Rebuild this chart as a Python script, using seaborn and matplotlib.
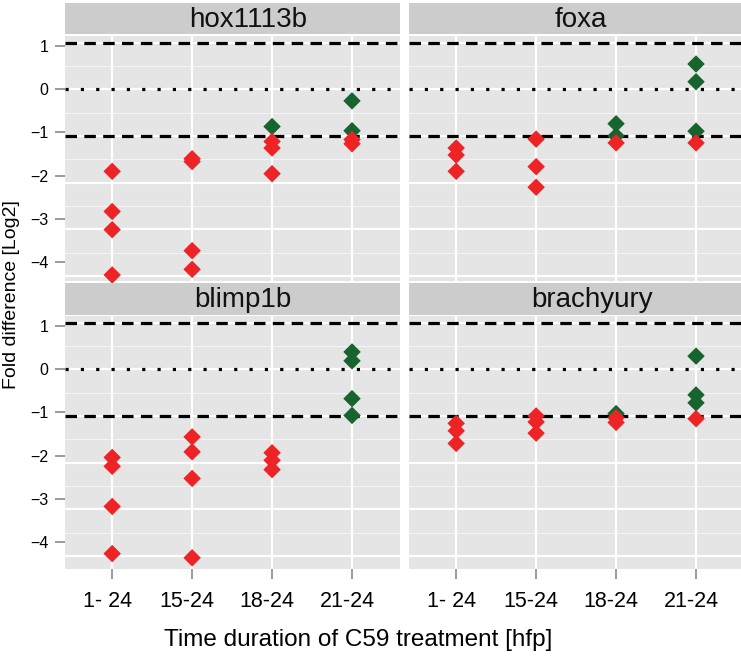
import numpy as np
import pandas as pd
import matplotlib
matplotlib.use("Agg")
import matplotlib.pyplot as plt
from matplotlib.transforms import ScaledTranslation
import seaborn as sns

# Treatment windows (hours post fertilisation) and genes shown in the four facets
conditions = ["1- 24", "15-24", "18-24", "21-24"]
genes = ["hox1113b", "foxa", "blimp1b", "brachyury"]

# log2 fold difference per replicate, grouped by treatment window.
# "down": reduced beyond the 2-fold cut-off, "flat": not.
hox1113b_down = [[-1.76, -2.62, -3.01, -3.98], [-1.49, -1.55, -3.46, -3.86], [-1.12, -1.26, -1.81], [-1.08, -1.17]]
hox1113b_flat = [[], [], [-0.80], [-0.25, -0.89]]
foxa_down = [[-1.26, -1.41, -1.76], [-1.07, -1.66, -2.10], [-1.15], [-1.15]]
foxa_flat = [[], [], [-0.74, -1.00], [0.54, 0.16, -0.90]]
blimp1b_down = [[-1.89, -2.08, -2.94, -3.95], [-1.45, -1.77, -2.34, -4.04], [-1.79, -1.95, -2.15], []]
blimp1b_flat = [[], [], [], [0.37, 0.18, -0.63, -0.99]]
brachyury_down = [[-1.16, -1.32, -1.59], [-1.00, -1.13, -1.37], [-1.04, -1.14], [-1.06]]
brachyury_flat = [[], [], [-0.95], [0.28, -0.55, -0.72]]

y_tick_values = [1, 0, -1, -2, -3, -4]
y_tick_labels = ["1", "0", "\u22121", "\u22122", "\u22123", "\u22124"]
cutoff = 1.0

series = {
    "hox1113b": (hox1113b_down, hox1113b_flat),
    "foxa": (foxa_down, foxa_flat),
    "blimp1b": (blimp1b_down, blimp1b_flat),
    "brachyury": (brachyury_down, brachyury_flat),
}

rows = []
for gene, (down, flat) in series.items():
    # "flat" rows first so the red points are drawn on top
    for status, groups in (("flat", flat), ("down", down)):
        for cond, vals in zip(conditions, groups):
            for v in vals:
                rows.append((gene, cond, status, v))
df = pd.DataFrame(rows, columns=["gene", "time", "status", "fold"])

sns.set_theme(style="white")
plt.rcParams["font.family"] = ["Liberation Sans", "DejaVu Sans"]

W, H = 741, 658
fig = plt.figure(figsize=(W / 100, H / 100), dpi=100)


def box(x0, y0, x1, y1):
    return [x0 / W, 1 - y1 / H, (x1 - x0) / W, (y1 - y0) / H]


RED = "#EE2326"
GREEN = "#17642F"
PANEL = "#E5E5E5"
STRIP = "#CCCCCC"
TICK = "#7F7F7F"

layout = {
    "hox1113b": dict(panel=(65, 36, 400, 281), strip=(65, 3, 400, 34), ylim=(-4.11, 1.14), left=True, bottom=False, tx=0.546),
    "foxa": dict(panel=(409, 36, 744, 281), strip=(409, 3, 744, 34), ylim=(-4.11, 1.14), left=False, bottom=False, tx=0.513),
    "blimp1b": dict(panel=(65, 316, 400, 569), strip=(65, 283, 400, 315), ylim=(-4.28, 1.14), left=True, bottom=True, tx=0.531),
    "brachyury": dict(panel=(409, 316, 744, 569), strip=(409, 283, 744, 315), ylim=(-4.28, 1.14), left=False, bottom=True, tx=0.546),
}

# tick labels sit on a slightly tighter spacing than the grid
LABEL_STEP = 0.925
label_shift = ScaledTranslation(-5 / 100, 0, fig.dpi_scale_trans)

for gene in genes:
    spec = layout[gene]
    ax = fig.add_axes(box(*spec["panel"]))
    ax.set_facecolor(PANEL)
    sub = df[df["gene"] == gene]
    sns.stripplot(data=sub, x="time", y="fold", hue="status", order=conditions,
                  palette={"down": RED, "flat": GREEN}, jitter=False, marker="D",
                  size=8.9, linewidth=0, legend=False, ax=ax)
    for coll in ax.collections:
        coll.set_zorder(4)
        coll.set_clip_on(False)

    ax.set_xlim(-0.59, 3.6)
    ax.set_ylim(*spec["ylim"])
    ax.grid(False)
    for s in ax.spines.values():
        s.set_visible(False)

    # grid: major on whole units, minor on halves, verticals on categories
    for v in np.arange(-5, 2, 1.0):
        ax.axhline(v, color="white", lw=1.6, zorder=0.5)
        ax.axhline(v + 0.5, color="#F4F4F4", lw=0.8, zorder=0.5)
    for i in range(len(conditions)):
        ax.axvline(i, color="white", lw=1.6, zorder=0.5)

    # 2-fold cut-offs and zero line
    for c in (cutoff, -cutoff):
        ax.axhline(c, color="black", lw=2.3, linestyle=(0, (3.6, 2.3)),
                   dash_capstyle="butt", zorder=2)
    ax.axhline(0, color="black", lw=2.3, linestyle=(0, (1.0, 3.8)),
               dash_capstyle="butt", zorder=2)

    if spec["left"]:
        ax.set_yticks([t * LABEL_STEP for t in y_tick_values], labels=y_tick_labels)
        ax.tick_params(axis="y", length=7.5, width=1.1, color=TICK, pad=4.5,
                       labelsize=11.5, labelcolor="black", left=True)
    else:
        ax.set_yticks([])
    if spec["bottom"]:
        ax.set_xticks(range(len(conditions)), labels=conditions)
        ax.tick_params(axis="x", length=7.5, width=1.1, color=TICK, pad=8,
                       labelsize=15.5, labelcolor="black", bottom=True)
        for lbl in ax.get_xticklabels():
            lbl.set_transform(lbl.get_transform() + label_shift)
    else:
        ax.set_xticks([])
    ax.set_xlabel("")
    ax.set_ylabel("")

    sax = fig.add_axes(box(*spec["strip"]))
    sax.set_facecolor(STRIP)
    sax.set_xticks([])
    sax.set_yticks([])
    for s in sax.spines.values():
        s.set_visible(False)
    sax.text(spec["tx"], 0.24, gene, transform=sax.transAxes, ha="center",
             va="baseline", fontsize=20, color="#111111")

fig.text(12 / W, 1 - 295 / H, "Fold difference [Log2]", rotation=90,
         ha="center", va="center", fontsize=14, color="black")
fig.text(358 / W, 1 - 640 / H, "Time duration of C59 treatment [hfp]",
         ha="center", va="center", fontsize=17.5, color="black")

fig.savefig("out.png", dpi=100, facecolor="white")
